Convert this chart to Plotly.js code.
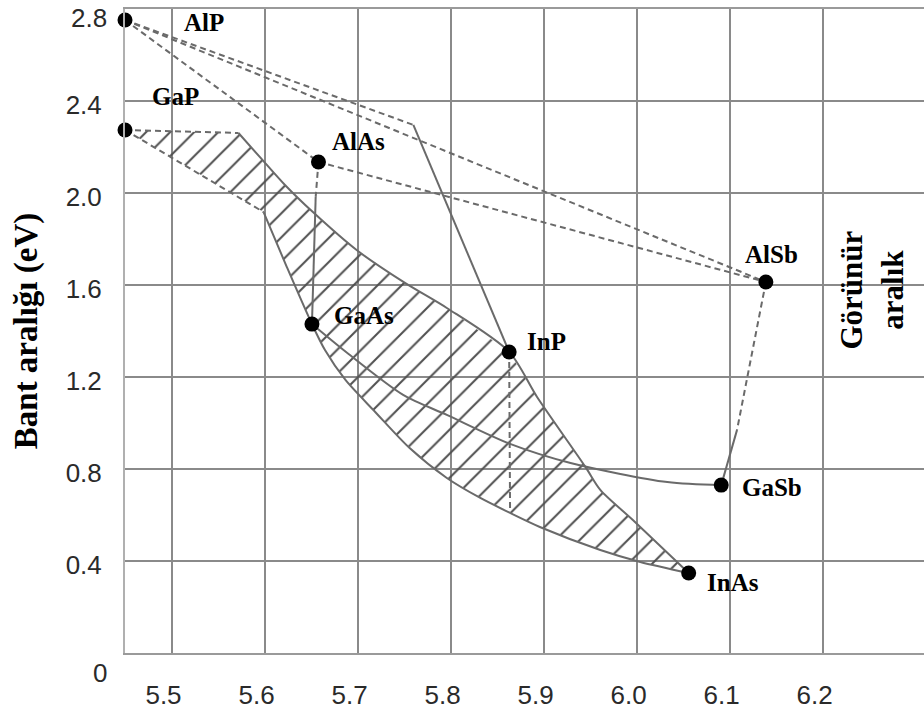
<!DOCTYPE html>
<html>
<head>
<meta charset="utf-8">
<script src="https://cdn.plot.ly/plotly-3.0.1.min.js"></script>
<style>
  html, body { margin: 0; padding: 0; background: #fff; }
  #chart { width: 924px; height: 717px; }
</style>
</head>
<body>
<div id="chart"></div>
<script>
// III-V binary compounds: lattice constant (Å) and band gap (eV)
const compounds = ['AlP', 'GaP', 'AlAs', 'GaAs', 'InP', 'AlSb', 'GaSb', 'InAs'];
const latticeA  = [5.45, 5.45, 5.658, 5.651, 5.863, 6.139, 6.091, 6.056];
const gapEv     = [2.752, 2.274, 2.135, 1.430, 1.309, 1.613, 0.730, 0.348];

// Upper boundary of the GaInAsP region: GaP kink -> InP -> InAs (direct gap, solid)
const upperA = [5.572, 5.598, 5.622, 5.652, 5.699, 5.751, 5.796, 5.863, 5.893, 5.945, 5.961, 5.996, 6.056];
const upperE = [2.261, 2.143, 2.035, 1.917, 1.752, 1.609, 1.500, 1.309, 1.113, 0.809, 0.709, 0.578, 0.348];

// Lower boundary: GaAsP kink -> GaAs -> InAs (direct gap, solid)
const lowerA = [5.599, 5.624, 5.651, 5.665, 5.687, 5.719, 5.756, 5.796, 5.832, 5.864, 5.896, 5.961, 6.004, 6.056];
const lowerE = [1.917, 1.678, 1.430, 1.317, 1.187, 1.048, 0.891, 0.761, 0.674, 0.609, 0.548, 0.448, 0.396, 0.348];

// GaAs -> GaSb alloy curve
const gaAsSbA = [5.651, 5.689, 5.749, 5.796, 5.864, 5.929, 6.033, 6.091];
const gaAsSbE = [1.430, 1.304, 1.122, 1.035, 0.909, 0.826, 0.743, 0.730];

// Alloy lines with an indirect (dashed) part and a direct (solid) part
const alInPA  = [5.45, 5.760, 5.863];   const alInPE  = [2.752, 2.296, 1.309];
const alGaAsA = [5.658, 5.655, 5.651];  const alGaAsE = [2.135, 1.983, 1.430];
const alGaSbA = [6.139, 6.108, 6.091];  const alGaSbE = [1.613, 0.970, 0.730];

// Indirect-gap kinks starting from GaP
const gaInPKinkA = [5.45, 5.572];  const gaInPKinkE = [2.274, 2.261];
const gaAsPKinkA = [5.45, 5.599];  const gaAsPKinkE = [2.274, 1.917];

// Vertical drop from InP to the lower boundary
const inPDropA = [5.863, 5.864];   const inPDropE = [1.309, 0.609];

const xTicks = [5.5, 5.6, 5.7, 5.8, 5.9, 6.0, 6.1, 6.2];
const xTickText = ['5.5', '5.6', '5.7', '5.8', '5.9', '6.0', '6.1', '6.2'];
const yTicks = [0, 0.4, 0.8, 1.2, 1.6, 2.0, 2.4, 2.8];
const yTickText = ['', '0.4', '0.8', '1.2', '1.6', '2.0', '2.4', ''];

// label offsets in pixels from each compound's marker
const labelDx = [57, 25, 12, 20, 16, -23, 19, 16];
const labelDy = [-2, 33, 20, 9, 10, 28, -2, -10];

const idx = name => compounds.indexOf(name);
const pt = name => [latticeA[idx(name)], gapEv[idx(name)]];

const lineColor = '#6a6a6a';
const dashPat = '6px,4px';
function seg(xs, ys, dashed, smooth) {
  return {
    type: 'scatter', mode: 'lines', x: xs, y: ys,
    line: {
      color: lineColor, width: 2, dash: dashed ? dashPat : 'solid',
      shape: smooth ? 'spline' : 'linear', smoothing: 0.8
    },
    hoverinfo: 'skip', showlegend: false
  };
}

// hatched quaternary region
const gp = pt('GaP');
const polyX = [gp[0]].concat(upperA, lowerA.slice().reverse(), [gp[0]]);
const polyY = [gp[1]].concat(upperE, lowerE.slice().reverse(), [gp[1]]);

const traces = [
  {
    type: 'scatter', mode: 'lines', x: polyX, y: polyY,
    fill: 'toself', fillcolor: 'rgba(0,0,0,0)',
    fillpattern: { shape: '/', fgcolor: '#505050', bgcolor: 'rgba(255,255,255,0)', size: 17, solidity: 0.12 },
    line: { width: 0, color: 'rgba(0,0,0,0)' },
    hoverinfo: 'skip', showlegend: false
  },
  // dashed indirect-gap lines
  seg([pt('AlP')[0], pt('AlSb')[0]], [pt('AlP')[1], pt('AlSb')[1]], true),
  seg([pt('AlP')[0], pt('AlAs')[0]], [pt('AlP')[1], pt('AlAs')[1]], true),
  seg([pt('AlAs')[0], pt('AlSb')[0]], [pt('AlAs')[1], pt('AlSb')[1]], true),
  seg(alInPA.slice(0, 2), alInPE.slice(0, 2), true),
  seg(alGaAsA.slice(0, 2), alGaAsE.slice(0, 2), true),
  seg(alGaSbA.slice(0, 2), alGaSbE.slice(0, 2), true),
  seg(gaInPKinkA, gaInPKinkE, true),
  seg(gaAsPKinkA, gaAsPKinkE, true),
  seg(inPDropA, inPDropE, true),
  // solid direct-gap lines
  seg(alInPA.slice(1), alInPE.slice(1), false),
  seg(alGaAsA.slice(1), alGaAsE.slice(1), false),
  seg(alGaSbA.slice(1), alGaSbE.slice(1), false),
  seg(upperA, upperE, false, true),
  seg(lowerA, lowerE, false, true),
  seg(gaAsSbA, gaAsSbE, false, true),
  // compounds
  {
    type: 'scatter', mode: 'markers', x: latticeA, y: gapEv,
    marker: { size: 15, color: '#000' },
    cliponaxis: false, hoverinfo: 'skip', showlegend: false
  }
];

const serifBold = { family: 'Liberation Serif, Times New Roman, serif', size: 25, color: '#000', weight: 'bold' };
const tickFont = { family: 'Liberation Sans, Arial, sans-serif', size: 26, color: '#2a2a2a' };

const annotations = compounds.map((c, i) => ({
  x: latticeA[i], y: gapEv[i], xref: 'x', yref: 'y',
  text: '<b>' + c + '</b>', showarrow: false,
  xanchor: 'left', yanchor: 'middle',
  xshift: labelDx[i], yshift: labelDy[i],
  font: serifBold
}));

// corner labels of the value axis
annotations.push({
  x: 0, y: 0, xref: 'paper', yref: 'y', text: '0', showarrow: false,
  xanchor: 'center', yanchor: 'middle', xshift: -25, yshift: -20, font: tickFont
});
annotations.push({
  x: 0, y: 2.8, xref: 'paper', yref: 'y', text: '2.8', showarrow: false,
  xanchor: 'right', yanchor: 'middle', xshift: -16, yshift: -9, font: tickFont
});

annotations.push({
  x: 6.253, y: 1.58, xref: 'x', yref: 'y',
  text: '<b>Görünür</b><br><b>aralık</b>', showarrow: false,
  textangle: -90, xanchor: 'center', yanchor: 'middle',
  font: { family: 'Liberation Serif, Times New Roman, serif', size: 31, color: '#000' }
});

const layout = {
  width: 924, height: 717,
  margin: { l: 125, r: 0, t: 9, b: 64 },
  paper_bgcolor: '#fff', plot_bgcolor: '#fff',
  showlegend: false,
  xaxis: {
    range: [5.45, 6.309], tickvals: xTicks, ticktext: xTickText,
    showgrid: true, gridcolor: '#8a8a8a', gridwidth: 2,
    zeroline: false, showline: true, linecolor: '#9a9a9a', linewidth: 2, mirror: true,
    ticks: '', tickfont: tickFont, ticklabelshift: -8, ticklabelstandoff: 18,
    fixedrange: true
  },
  yaxis: {
    range: [0, 2.8], tickvals: yTicks, ticktext: yTickText,
    showgrid: true, gridcolor: '#8a8a8a', gridwidth: 2,
    zeroline: false, showline: true, linecolor: '#b0b0b0', linewidth: 2,
    ticks: '', tickfont: tickFont, ticklabelshift: 4, ticklabelstandoff: 16,
    title: {
      text: '<b>Bant aralığı (eV)</b>', standoff: 18,
      font: { family: 'Liberation Serif, Times New Roman, serif', size: 33, color: '#000' }
    },
    automargin: false, fixedrange: true
  },
  annotations: annotations
};

Plotly.newPlot('chart', traces, layout, { staticPlot: true, displayModeBar: false });
</script>
</body>
</html>
